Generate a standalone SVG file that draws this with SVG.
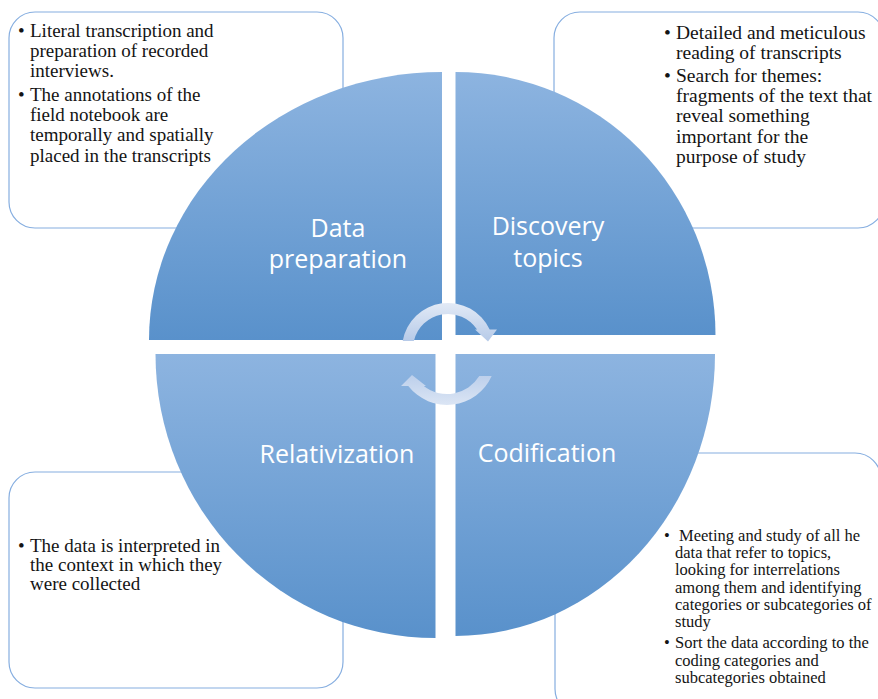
<svg xmlns="http://www.w3.org/2000/svg" width="878" height="699" viewBox="0 0 878 699">
  <style>
    .box { fill: #ffffff; stroke: #86aee0; stroke-width: 1.2; }
    .note { font-family: "Liberation Serif", "Times New Roman", serif; fill: #141414; }
    .n19 { font-size: 19px; }
    .n195 { font-size: 19.5px; }
    .n165 { font-size: 16.5px; }
    .label { font-family: "Open Sans", "Noto Sans", sans-serif; font-size: 25px; fill: #ffffff; text-anchor: middle; }
    .quad { stroke: none; }
  </style>
  <defs>
    <linearGradient id="quadFill" x1="0" y1="0" x2="0" y2="1">
      <stop offset="0" stop-color="#8db4e0"/>
      <stop offset="1" stop-color="#5991cb"/>
    </linearGradient>
    <linearGradient id="arrowTop" x1="0" y1="0" x2="0" y2="1">
      <stop offset="0" stop-color="#e2eaf6"/>
      <stop offset="1" stop-color="#b6cae8"/>
    </linearGradient>
    <linearGradient id="arrowBottom" x1="0" y1="0" x2="0" y2="1">
      <stop offset="0" stop-color="#bccfeb"/>
      <stop offset="1" stop-color="#dbe5f4"/>
    </linearGradient>
  </defs>

  <!-- note boxes (behind the circle) -->
  <g id="note-preparation">
    <rect class="box" x="9" y="12" width="334" height="216" rx="26"/>
    <text class="note n19">
      <tspan x="18" y="37">•</tspan><tspan x="30" y="37">Literal transcription and</tspan>
      <tspan x="30" y="57">preparation of recorded</tspan>
      <tspan x="30" y="77">interviews.</tspan>
      <tspan x="18" y="101">•</tspan><tspan x="30" y="101">The annotations of the</tspan>
      <tspan x="30" y="121">field notebook are</tspan>
      <tspan x="30" y="141">temporally and spatially</tspan>
      <tspan x="30" y="162">placed in the transcripts</tspan>
    </text>
  </g>

  <g id="note-discovery">
    <rect class="box" x="554" y="12" width="330" height="216" rx="26"/>
    <text class="note n195">
      <tspan x="664" y="39">•</tspan><tspan x="676" y="39">Detailed and meticulous</tspan>
      <tspan x="676" y="59">reading of transcripts</tspan>
      <tspan x="664" y="82">•</tspan><tspan x="676" y="82">Search for themes:</tspan>
      <tspan x="676" y="102">fragments of the text that</tspan>
      <tspan x="676" y="122">reveal something</tspan>
      <tspan x="676" y="143">important for the</tspan>
      <tspan x="676" y="163">purpose of study</tspan>
    </text>
  </g>

  <g id="note-relativization">
    <rect class="box" x="9" y="472" width="334" height="216" rx="26"/>
    <text class="note n19">
      <tspan x="18" y="552">•</tspan><tspan x="30" y="552">The data is interpreted in</tspan>
      <tspan x="30" y="571">the context in which they</tspan>
      <tspan x="30" y="590">were collected</tspan>
    </text>
  </g>

  <g id="note-codification">
    <rect class="box" x="555" y="453" width="326" height="262" rx="26"/>
    <text class="note n165">
      <tspan x="664" y="541">•</tspan><tspan x="679" y="541">Meeting and study of all he</tspan>
      <tspan x="675" y="558">data that refer to topics,</tspan>
      <tspan x="675" y="575">looking for interrelations</tspan>
      <tspan x="675" y="593">among them and identifying</tspan>
      <tspan x="675" y="610">categories or subcategories of</tspan>
      <tspan x="675" y="627">study</tspan>
      <tspan x="664" y="648">•</tspan><tspan x="675" y="648">Sort the data according to the</tspan>
      <tspan x="675" y="666">coding categories and</tspan>
      <tspan x="675" y="683">subcategories obtained</tspan>
    </text>
  </g>

  <!-- four quarter segments of the cycle -->
  <g id="quad-data-preparation">
    <path class="quad" fill="url(#quadFill)" d="M442,340 L149,340 A293,268 0 0 1 442,72 Z"/>
    <text class="label"><tspan x="338" y="237">Data</tspan><tspan x="338" y="268">preparation</tspan></text>
  </g>
  <g id="quad-discovery-topics">
    <path class="quad" fill="url(#quadFill)" d="M455.5,335 L455.5,72 A260,263 0 0 1 715.5,335 Z"/>
    <text class="label"><tspan x="548" y="235">Discovery</tspan><tspan x="548" y="267">topics</tspan></text>
  </g>
  <g id="quad-relativization">
    <path class="quad" fill="url(#quadFill)" d="M435.5,354 L435.5,638 A280,284 0 0 1 155.5,354 Z"/>
    <text class="label" x="337" y="463">Relativization</text>
  </g>
  <g id="quad-codification">
    <path class="quad" fill="url(#quadFill)" d="M455.5,354 L715,354 A260,282 0 0 1 455.5,636 Z"/>
    <text class="label" x="547" y="462">Codification</text>
  </g>

  <!-- circular arrows in the centre -->
  <g id="connectors">
    <path fill="url(#arrowTop)" d="M402.7,341 A46,46 0 0 1 489.7,329.5 L497,329.5 L488,341.5 L475,329.5 L477.1,329.5 A35,35 0 0 0 413.9,341 Z"/>
    <path fill="url(#arrowBottom)" d="M491.7,376 A49,49 0 0 1 408.3,386 L401,386 L412,375 L426,386 L423.7,386 A38,38 0 0 0 479.3,376 Z"/>
  </g>
</svg>
